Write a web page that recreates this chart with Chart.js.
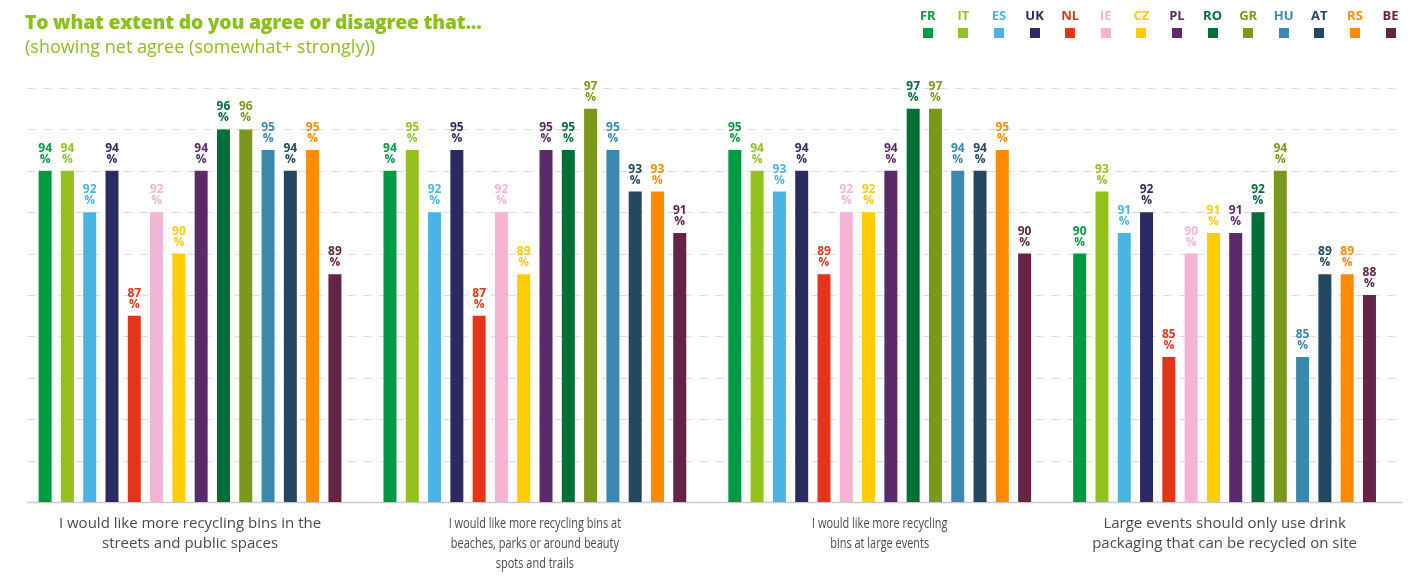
<!DOCTYPE html>
<html>
<head>
<meta charset="utf-8">
<script src="https://cdn.jsdelivr.net/npm/chart.js@4.4.1/dist/chart.umd.min.js"></script>
<style>
  html, body { margin: 0; padding: 0; background: #ffffff; }
  body { width: 1421px; height: 580px; position: relative; overflow: hidden; font-family: "Open Sans", "Noto Sans", sans-serif; }
  #title { position: absolute; left: 25px; top: 8px; font-size: 19.3px; font-weight: 800; color: #8cbf1f; white-space: nowrap; letter-spacing: -0.2px; }
  #subtitle { position: absolute; left: 25px; top: 34px; font-size: 18px; font-weight: 400; color: #8cbf1f; white-space: nowrap; }
  #legend { position: absolute; left: 910px; top: 6px; display: flex; }
  .lg { width: 35.6px; display: flex; flex-direction: column; align-items: center; }
  .lg span { font-size: 13px; font-weight: 700; line-height: 18px; }
  .lg i { display: block; width: 10px; height: 10px; margin-top: 4px; }
  #wrap { position: absolute; left: 0; top: 0; width: 1421px; height: 580px; }
</style>
</head>
<body>
<div id="wrap"><canvas id="c" width="1421" height="580"></canvas></div>
<div id="title">To what extent do you agree or disagree that...</div>
<div id="subtitle">(showing net agree (somewhat+ strongly))</div>
<div id="legend"></div>
<script>
// ---- data ----
const categories = [
  ["I would like more recycling bins in the", "streets and public spaces"],
  ["I would like more recycling bins at", "beaches, parks or around beauty", "spots and trails"],
  ["I would like more recycling", "bins at large events"],
  ["Large events should only use drink", "packaging that can be recycled on site"]
];
const countries = ["FR", "IT", "ES", "UK", "NL", "IE", "CZ", "PL", "RO", "GR", "HU", "AT", "RS", "BE"];
const colors = ["#009a44", "#95c11f", "#4bb4e6", "#2c2a63", "#e4351a", "#f4b4d4", "#ffcc00", "#5c296b", "#006f37", "#7a991c", "#3a89ae", "#244860", "#ff8a00", "#652447"];
const FR = [94, 94, 95, 90];
const IT = [94, 95, 94, 93];
const ES = [92, 92, 93, 91];
const UK = [94, 95, 94, 92];
const NL = [87, 87, 89, 85];
const IE = [92, 92, 92, 90];
const CZ = [90, 89, 92, 91];
const PL = [94, 95, 94, 91];
const RO = [96, 95, 97, 92];
const GR = [96, 97, 97, 94];
const HU = [95, 95, 94, 85];
const AT = [94, 93, 94, 89];
const RS = [95, 93, 95, 89];
const BE = [89, 91, 90, 88];
const seriesValues = [FR, IT, ES, UK, NL, IE, CZ, PL, RO, GR, HU, AT, RS, BE];
const yMin = 78, yMax = 98, yStep = 2;
// horizontal compression of each category caption (the source uses a condensed face for two of them)
const captionWidthScale = [1, 0.73, 0.73, 1];

// ---- legend (HTML) ----
const legendEl = document.getElementById('legend');
countries.forEach((c, i) => {
  const d = document.createElement('div');
  d.className = 'lg';
  const s = document.createElement('span');
  s.textContent = c; s.style.color = colors[i];
  const b = document.createElement('i');
  b.style.background = colors[i];
  d.appendChild(s); d.appendChild(b);
  legendEl.appendChild(d);
});

const FONT = '"Open Sans", "Noto Sans", sans-serif';

const gridPlugin = {
  id: 'dashGrid',
  beforeDatasetsDraw(chart) {
    const ctx = chart.ctx, y = chart.scales.y;
    const x0 = 27, x1 = 1402;
    ctx.save();
    ctx.strokeStyle = '#dcdcdc';
    ctx.lineWidth = 1;
    ctx.setLineDash([9, 7]);
    y.ticks.forEach(t => {
      if (t.value <= yMin) return;
      const py = Math.round(y.getPixelForValue(t.value)) + 0.5;
      ctx.beginPath(); ctx.moveTo(x0, py); ctx.lineTo(x1, py); ctx.stroke();
    });
    ctx.setLineDash([]);
    ctx.strokeStyle = '#c9c9c9';
    ctx.lineWidth = 1.5;
    const by = y.getPixelForValue(yMin) + 0.5;
    ctx.beginPath(); ctx.moveTo(x0, by); ctx.lineTo(x1, by); ctx.stroke();
    ctx.restore();
  }
};

const captionPlugin = {
  id: 'captions',
  afterDraw(chart) {
    const ctx = chart.ctx, xs = chart.scales.x, ys = chart.scales.y;
    const base = ys.getPixelForValue(yMin);
    ctx.save();
    ctx.font = '15px ' + FONT;
    ctx.fillStyle = '#4a4a4a';
    ctx.textAlign = 'center';
    ctx.textBaseline = 'middle';
    chart.data.labels.forEach((lines, i) => {
      const cx = xs.getPixelForValue(i);
      lines.forEach((line, k) => {
        ctx.save();
        ctx.translate(cx, base + 21.5 + k * 20);
        ctx.scale(captionWidthScale[i], 1);
        ctx.fillText(line, 0, 0);
        ctx.restore();
      });
    });
    ctx.restore();
  }
};

const labelPlugin = {
  id: 'barLabels',
  afterDatasetsDraw(chart) {
    const ctx = chart.ctx;
    ctx.save();
    ctx.font = 'bold 12px ' + FONT;
    ctx.textAlign = 'center';
    ctx.textBaseline = 'alphabetic';
    chart.data.datasets.forEach((ds, di) => {
      const meta = chart.getDatasetMeta(di);
      meta.data.forEach((bar, i) => {
        ctx.fillStyle = ds.backgroundColor;
        ctx.fillText(String(ds.data[i]), bar.x, bar.y - 19);
        ctx.fillText('%', bar.x, bar.y - 8);
      });
    });
    ctx.restore();
  }
};

new Chart(document.getElementById('c'), {
  type: 'bar',
  data: {
    labels: categories,
    datasets: countries.map((c, i) => ({
      label: c,
      data: seriesValues[i],
      backgroundColor: colors[i],
      borderWidth: 0,
      barPercentage: 0.583,
      categoryPercentage: 0.905
    }))
  },
  options: {
    responsive: false,
    animation: false,
    devicePixelRatio: 1,
    layout: { padding: { left: 17.6, right: 24, top: 88, bottom: 0 } },
    plugins: { legend: { display: false }, tooltip: { enabled: false }, title: { display: false } },
    scales: {
      x: {
        grid: { display: false, drawTicks: false },
        border: { display: false },
        ticks: { display: false },
        afterFit(s) { s.height = 78; }
      },
      y: {
        min: yMin, max: yMax,
        ticks: { display: false, stepSize: yStep },
        grid: { display: false, drawTicks: false },
        border: { display: false },
        afterFit(s) { s.width = 0; }
      }
    }
  },
  plugins: [gridPlugin, labelPlugin, captionPlugin]
});
</script>
</body>
</html>
